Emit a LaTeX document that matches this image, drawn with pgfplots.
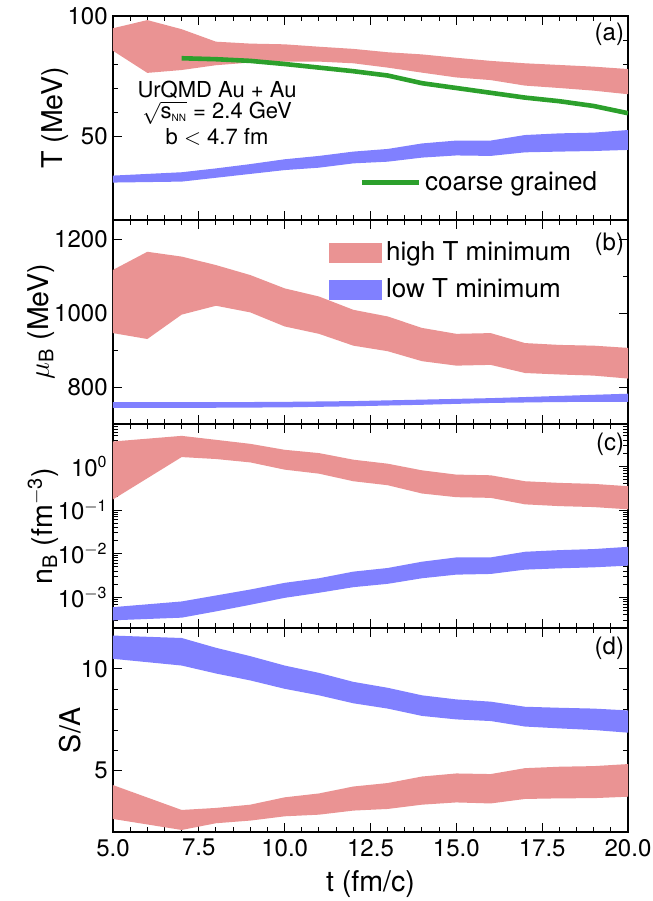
\documentclass[border=0pt]{standalone}
\usepackage{fontspec}
\setmainfont{TeX Gyre Heros}
\usepackage{pgfplots}
\pgfplotsset{compat=1.18}

\definecolor{bandred}{RGB}{234,147,147}
\definecolor{bandblue}{RGB}{128,128,255}
\definecolor{cgreen}{RGB}{44,160,44}

\newcommand{\tickfont}{\fontsize{12}{13}\selectfont}
\newcommand{\labfont}{\fontsize{14.3}{16}\selectfont}
\newcommand{\legfont}{\fontsize{13}{14}\selectfont}

\pgfplotsset{
  panel/.style={
    scale only axis, width=257.5pt, height=102pt,
    anchor=north west,
    xmin=5, xmax=20,
    xtick={5,7.5,10,12.5,15,17.5,20}, minor x tick num=4,
    tick align=inside,
    major tick length=4.5pt, minor tick length=2.5pt,
    every tick/.style={black, line width=0.5pt},
    axis line style={line width=0.7pt},
    tick label style={font=\tickfont},
    yticklabel style={inner sep=2.5pt},
    label style={font=\labfont},
    ylabel style={inner sep=0pt},
    ylabel shift=-3pt,
    /pgf/number format/assume math mode=true,
    /pgf/number format/1000 sep={},
    xticklabel=\empty,
  },
}

\begin{document}
\begin{tikzpicture}
\fill[white, use as bounding box] (0,0) rectangle (326.5pt,-450.5pt);

% (a) temperature
\begin{axis}[panel, at={(56.5pt,-8pt)},
  ymin=15, ymax=100, ytick={50,100}, minor y tick num=4,
  ylabel={T (MeV)},
  legend style={draw=none, fill=none, at={(0.478,0.183)}, anchor=west,
    inner sep=0pt, font=\legfont,
    /tikz/every even column/.append style={column sep=14pt}},
  legend image code/.code={\draw[#1] (0pt,0pt) -- (28.5pt,0pt);},
]
\addplot[fill=bandred, draw=none, forget plot] coordinates {
  (5,94.9) (6,98.3) (7,94.5) (8,89.3) (9,88.5) (10,88.2) (11,87.2) (12,86.3)
  (13,84.9) (14,84.0) (15,82.6) (16,81.3) (17,80.3) (18,79.6) (19,78.9) (20,77.9)
  (20,67.4) (19,68.9) (18,70.0) (17,71.0) (16,73.3) (15,74.4) (14,76.4) (13,78.5)
  (12,80.3) (11,81.0) (10,81.0) (9,80.6) (8,79.5) (7,77.5) (6,76.3) (5,85.5)
};
\addplot[fill=bandblue, draw=none, forget plot] coordinates {
  (5,33.5) (6,34.2) (7,34.9) (8,36.5) (9,38.3) (10,40.3) (11,41.7) (12,43.5)
  (13,44.6) (14,46.9) (15,48.1) (16,48.1) (17,50.4) (18,51.1) (19,51.4) (20,52.5)
  (20,44.2) (19,43.75) (18,43.5) (17,43.2) (16,41.7) (15,41.9) (14,41.0) (13,39.3)
  (12,38.6) (11,36.8) (10,35.8) (9,34.2) (8,32.6) (7,31.0) (6,30.8) (5,30.6)
};
\addplot[cgreen, line width=2.3pt] coordinates {
  (7,82.4) (8,82.0) (9,81.3) (10,80.0) (11,78.5) (12,77.0) (13,75.2)
  (14,72.0) (15,70.0) (16,68.0) (17,66.0) (18,64.5) (19,62.5) (20,59.5)
};
\addlegendentry{coarse grained}
\node[font=\fontsize{11}{13}\selectfont] at (axis cs:8.03,69.2) {UrQMD Au + Au};
\node[font=\fontsize{11}{13}\selectfont] at (axis cs:8.03,59.6)
  {$\sqrt{\mbox{s}_{\mbox{\tiny NN}}}$ = 2.4 GeV};
\node[font=\fontsize{11}{13}\selectfont] at (axis cs:8.03,49.6) {b $<$ 4.7 fm};
\node[font=\tickfont, anchor=east, inner sep=0pt] at (rel axis cs:0.993,0.91) {(a)};
\end{axis}

% (b) baryon chemical potential
\begin{axis}[panel, at={(56.5pt,-110pt)},
  ymin=700, ymax=1252, ytick={800,1000,1200}, minor y tick num=1,
  ylabel={$\mu$\textsubscript{B} (MeV)},
  legend style={draw=none, fill=none, at={(0.419,0.915)}, anchor=north west,
    inner sep=0pt, font=\legfont, row sep=3.5pt,
    /tikz/every even column/.append style={column sep=16pt}},
  legend cell align=left,
  legend image code/.code={\fill[#1] (0pt,-5pt) rectangle (26.5pt,5pt);},
]
\addplot[fill=bandred, draw=none] coordinates {
  (5,1117) (6,1166) (7,1153) (8,1130) (9,1103) (10,1067) (11,1045) (12,1009)
  (13,991) (14,960) (15,944) (16,946) (17,919) (18,914) (19,912) (20,906)
  (20,823) (19,831) (18,834) (17,838) (16,860) (15,858) (14,870) (13,897)
  (12,912) (11,944) (10,964) (9,1002) (8,1020) (7,996) (6,930) (5,946)
};
\addlegendentry{high T minimum}
\addplot[fill=bandblue, draw=none] coordinates {
  (5,759) (8,759) (10,760) (12,762) (14,766) (16,770) (18,776) (20,782)
  (20,760) (18,759.5) (16,757) (14,752) (12,748) (10,745) (8,744) (5,744)
};
\addlegendentry{low T minimum}
\node[font=\tickfont, anchor=east, inner sep=0pt] at (rel axis cs:0.993,0.88) {(b)};
\end{axis}

% (c) baryon density
\begin{axis}[panel, at={(56.5pt,-212pt)},
  ymode=log, ymin=2e-4, ymax=9.3,
  ytick={1e-3,1e-2,1e-1,1},
  yticklabels={10\textsuperscript{$-$3},10\textsuperscript{$-$2},10\textsuperscript{$-$1},10\textsuperscript{0}},
  minor ytick={2e-4,3e-4,4e-4,5e-4,6e-4,7e-4,8e-4,9e-4,
    2e-3,3e-3,4e-3,5e-3,6e-3,7e-3,8e-3,9e-3,
    2e-2,3e-2,4e-2,5e-2,6e-2,7e-2,8e-2,9e-2,
    2e-1,3e-1,4e-1,5e-1,6e-1,7e-1,8e-1,9e-1,2,3,4,5,6,7,8,9},
  ylabel={n\textsubscript{B} (fm\textsuperscript{$-$3})},
]
\addplot[fill=bandred, draw=none] coordinates {
  (5,3.7) (7,4.98) (8,4.04) (9,3.27) (10,2.39) (11,2.01) (12,1.42) (13,1.15)
  (14,0.81) (15,0.647) (16,0.624) (17,0.456) (18,0.418) (19,0.397) (20,0.351)
  (20,0.104) (19,0.117) (18,0.123) (17,0.135) (16,0.19) (15,0.197) (14,0.239)
  (13,0.37) (12,0.456) (11,0.68) (10,0.84) (9,1.23) (8,1.47) (7,1.63) (5,0.175)
};
\addplot[fill=bandblue, draw=none] coordinates {
  (5,6.0e-4) (7,8.1e-4) (8,1.11e-3) (9,1.52e-3) (10,2.16e-3) (11,2.75e-3)
  (12,3.9e-3) (13,4.72e-3) (14,6.58e-3) (15,8.25e-3) (16,8.25e-3) (17,1.11e-2)
  (18,1.21e-2) (19,1.28e-2) (20,1.44e-2)
  (20,5.34e-3) (19,4.89e-3) (18,4.64e-3) (17,4.33e-3) (16,3.45e-3) (15,3.33e-3)
  (14,2.75e-3) (13,2.05e-3) (12,1.72e-3) (11,1.28e-3) (10,9.8e-4) (9,6.8e-4)
  (8,4.8e-4) (7,3.45e-4) (5,3.0e-4)
};
\node[font=\tickfont, anchor=east, inner sep=0pt] at (rel axis cs:0.993,0.9) {(c)};
\end{axis}

% (d) entropy per baryon
\begin{axis}[panel, at={(56.5pt,-314pt)},
  ymin=2, ymax=12, ytick={5,10}, minor y tick num=4,
  ylabel={S/A}, xlabel={t (fm/c)},
  xticklabel={\pgfmathprintnumber[fixed,fixed zerofill,precision=1]{\tick}},
]
\addplot[fill=bandblue, draw=none] coordinates {
  (5,11.63) (7,11.51) (8,11.03) (9,10.62) (10,10.16) (11,9.80) (12,9.36) (13,9.07)
  (14,8.70) (15,8.50) (16,8.39) (17,8.14) (18,8.09) (19,8.05) (20,7.96)
  (20,6.87) (19,7.00) (18,7.08) (17,7.17) (16,7.44) (15,7.52) (14,7.69) (13,8.05)
  (12,8.31) (11,8.70) (10,9.02) (9,9.43) (8,9.77) (7,10.16) (5,10.49)
};
\addplot[fill=bandred, draw=none] coordinates {
  (5,4.30) (7,3.08) (8,3.18) (9,3.34) (10,3.70) (11,3.89) (12,4.23) (13,4.40)
  (14,4.72) (15,4.87) (16,4.84) (17,5.13) (18,5.20) (19,5.23) (20,5.33)
  (20,3.73) (19,3.66) (18,3.65) (17,3.62) (16,3.40) (15,3.45) (14,3.34) (13,3.13)
  (12,3.05) (11,2.85) (10,2.77) (9,2.56) (8,2.43) (7,2.10) (5,2.64)
};
\node[font=\tickfont, anchor=east, inner sep=0pt] at (rel axis cs:0.993,0.9) {(d)};
\end{axis}
\end{tikzpicture}
\end{document}
